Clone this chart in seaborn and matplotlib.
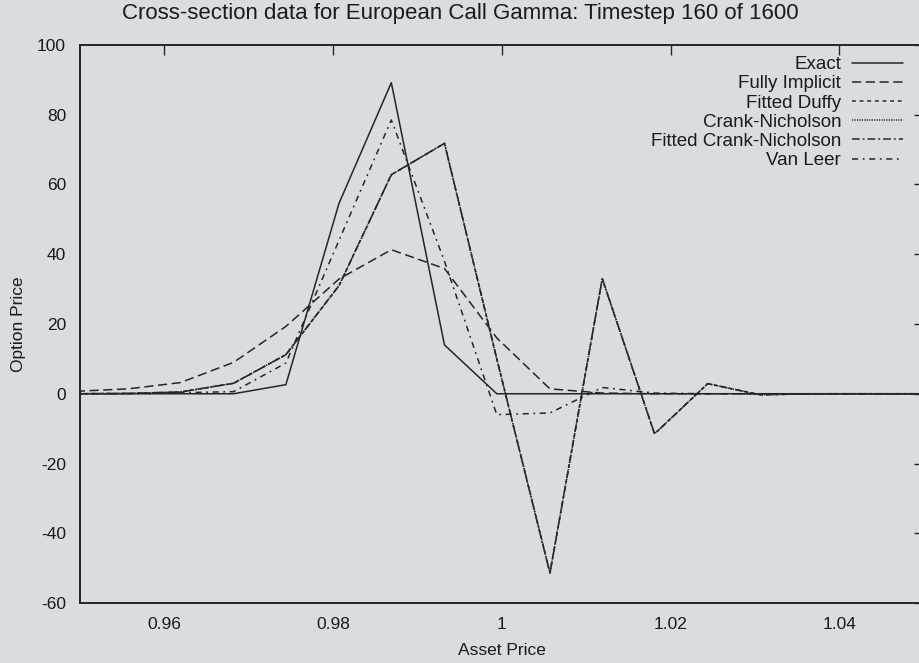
import matplotlib
matplotlib.use("Agg")
import matplotlib.pyplot as plt
import numpy as np
import pandas as pd
import seaborn as sns

# Asset price grid (cross-section at timestep 160)
asset_price = [0.9495, 0.9557, 0.9619, 0.9682, 0.9744, 0.9807, 0.9869, 0.9932,
               0.9994, 1.0057, 1.0119, 1.0181, 1.0244, 1.0306, 1.0369, 1.0431, 1.0494]

# Gamma values per scheme
exact = [0.0, 0.0, 0.0, 0.0, 2.6, 54.6, 89.2, 14.0,
         0.0, 0.0, 0.0, 0.0, 0.0, 0.0, 0.0, 0.0, 0.0]
fully_implicit = [0.7, 1.4, 3.2, 9.0, 19.3, 32.9, 41.3, 35.9,
                  16.0, 1.4, 0.2, 0.0, 0.0, 0.0, 0.0, 0.0, 0.0]
fitted_duffy = [0.0, 0.1, 0.5, 3.0, 11.2, 31.0, 62.8, 71.8,
                10.0, -51.4, 33.0, -11.5, 2.9, -0.3, 0.0, 0.0, 0.0]
crank_nicholson = [0.0, 0.1, 0.5, 3.0, 11.2, 31.0, 62.8, 71.8,
                   10.0, -51.4, 33.0, -11.5, 2.9, -0.3, 0.0, 0.0, 0.0]
fitted_crank_nicholson = [0.0, 0.1, 0.5, 3.0, 11.2, 31.0, 62.8, 71.8,
                          10.0, -51.4, 33.0, -11.5, 2.9, -0.3, 0.0, 0.0, 0.0]
van_leer = [0.0, 0.0, 0.3, 0.6, 8.8, 44.0, 78.5, 38.0,
            -6.0, -5.5, 1.8, 0.2, 0.0, 0.0, 0.0, 0.0, 0.0]

series_names = ["Exact", "Fully Implicit", "Fitted Duffy", "Crank-Nicholson",
                "Fitted Crank-Nicholson", "Van Leer"]
series_values = [exact, fully_implicit, fitted_duffy, crank_nicholson,
                 fitted_crank_nicholson, van_leer]

x_ticks = [0.96, 0.98, 1.0, 1.02, 1.04]
x_tick_labels = ["0.96", "0.98", "1", "1.02", "1.04"]
y_ticks = [-60, -40, -20, 0, 20, 40, 60, 80, 100]

line_styles = [
    "-",
    (0, (6, 3)),
    (0, (2.5, 2.5)),
    (0, (0.8, 0.8)),
    (0, (5, 2, 1.2, 2)),
    (0, (4, 3, 1.2, 3)),
]

sns.set_theme(style="white")
plt.rcParams["font.family"] = ["Liberation Sans", "DejaVu Sans"]
plt.rcParams["axes.unicode_minus"] = False

bg = "#d9dce1"
ink = "#262626"

fig = plt.figure(figsize=(9.2, 6.63), dpi=100, facecolor=bg)
ax = fig.add_axes([80 / 920, 1 - 603 / 663, (923.7 - 80) / 920, (603 - 45) / 663])
ax.set_facecolor(bg)

for name, vals, ls in zip(series_names, series_values, line_styles):
    df = pd.DataFrame({"Asset Price": asset_price, "Option Price": vals})
    sns.lineplot(data=df, x="Asset Price", y="Option Price", ax=ax,
                 color=ink, linewidth=1.1, linestyle=ls, label=name)

ax.set_xlim(0.95, 1.05)
ax.set_ylim(-60, 100)
ax.set_xticks(x_ticks)
ax.set_xticklabels(x_tick_labels)
ax.set_yticks(y_ticks)

ax.tick_params(axis="both", which="both", direction="in", length=7, width=1.0,
               color=ink, labelsize=12.5, labelcolor="#1a1a1a",
               top=True, right=True, pad=10)
for side in ["left", "right", "top", "bottom"]:
    ax.spines[side].set_color(ink)
    ax.spines[side].set_linewidth(1.4)

ax.set_xlabel("Asset Price", fontsize=12.5, color="#1a1a1a", labelpad=8)
ax.set_ylabel("Option Price", fontsize=12.5, color="#1a1a1a", labelpad=8)
fig.text(460 / 920, 1 - 13 / 663,
         "Cross-section data for European Call Gamma: Timestep 160 of 1600",
         fontsize=16, color="#1a1a1a", ha="center", va="center")

leg = ax.legend(loc="upper right", bbox_to_anchor=(0.9755, 0.98),
                frameon=False, markerfirst=False, fontsize=13.5,
                handlelength=2.7, handletextpad=0.6, labelspacing=0.11,
                borderpad=0, borderaxespad=0)
for t in leg.get_texts():
    t.set_color("#1a1a1a")

fig.savefig("out.png", dpi=100, facecolor=bg)
